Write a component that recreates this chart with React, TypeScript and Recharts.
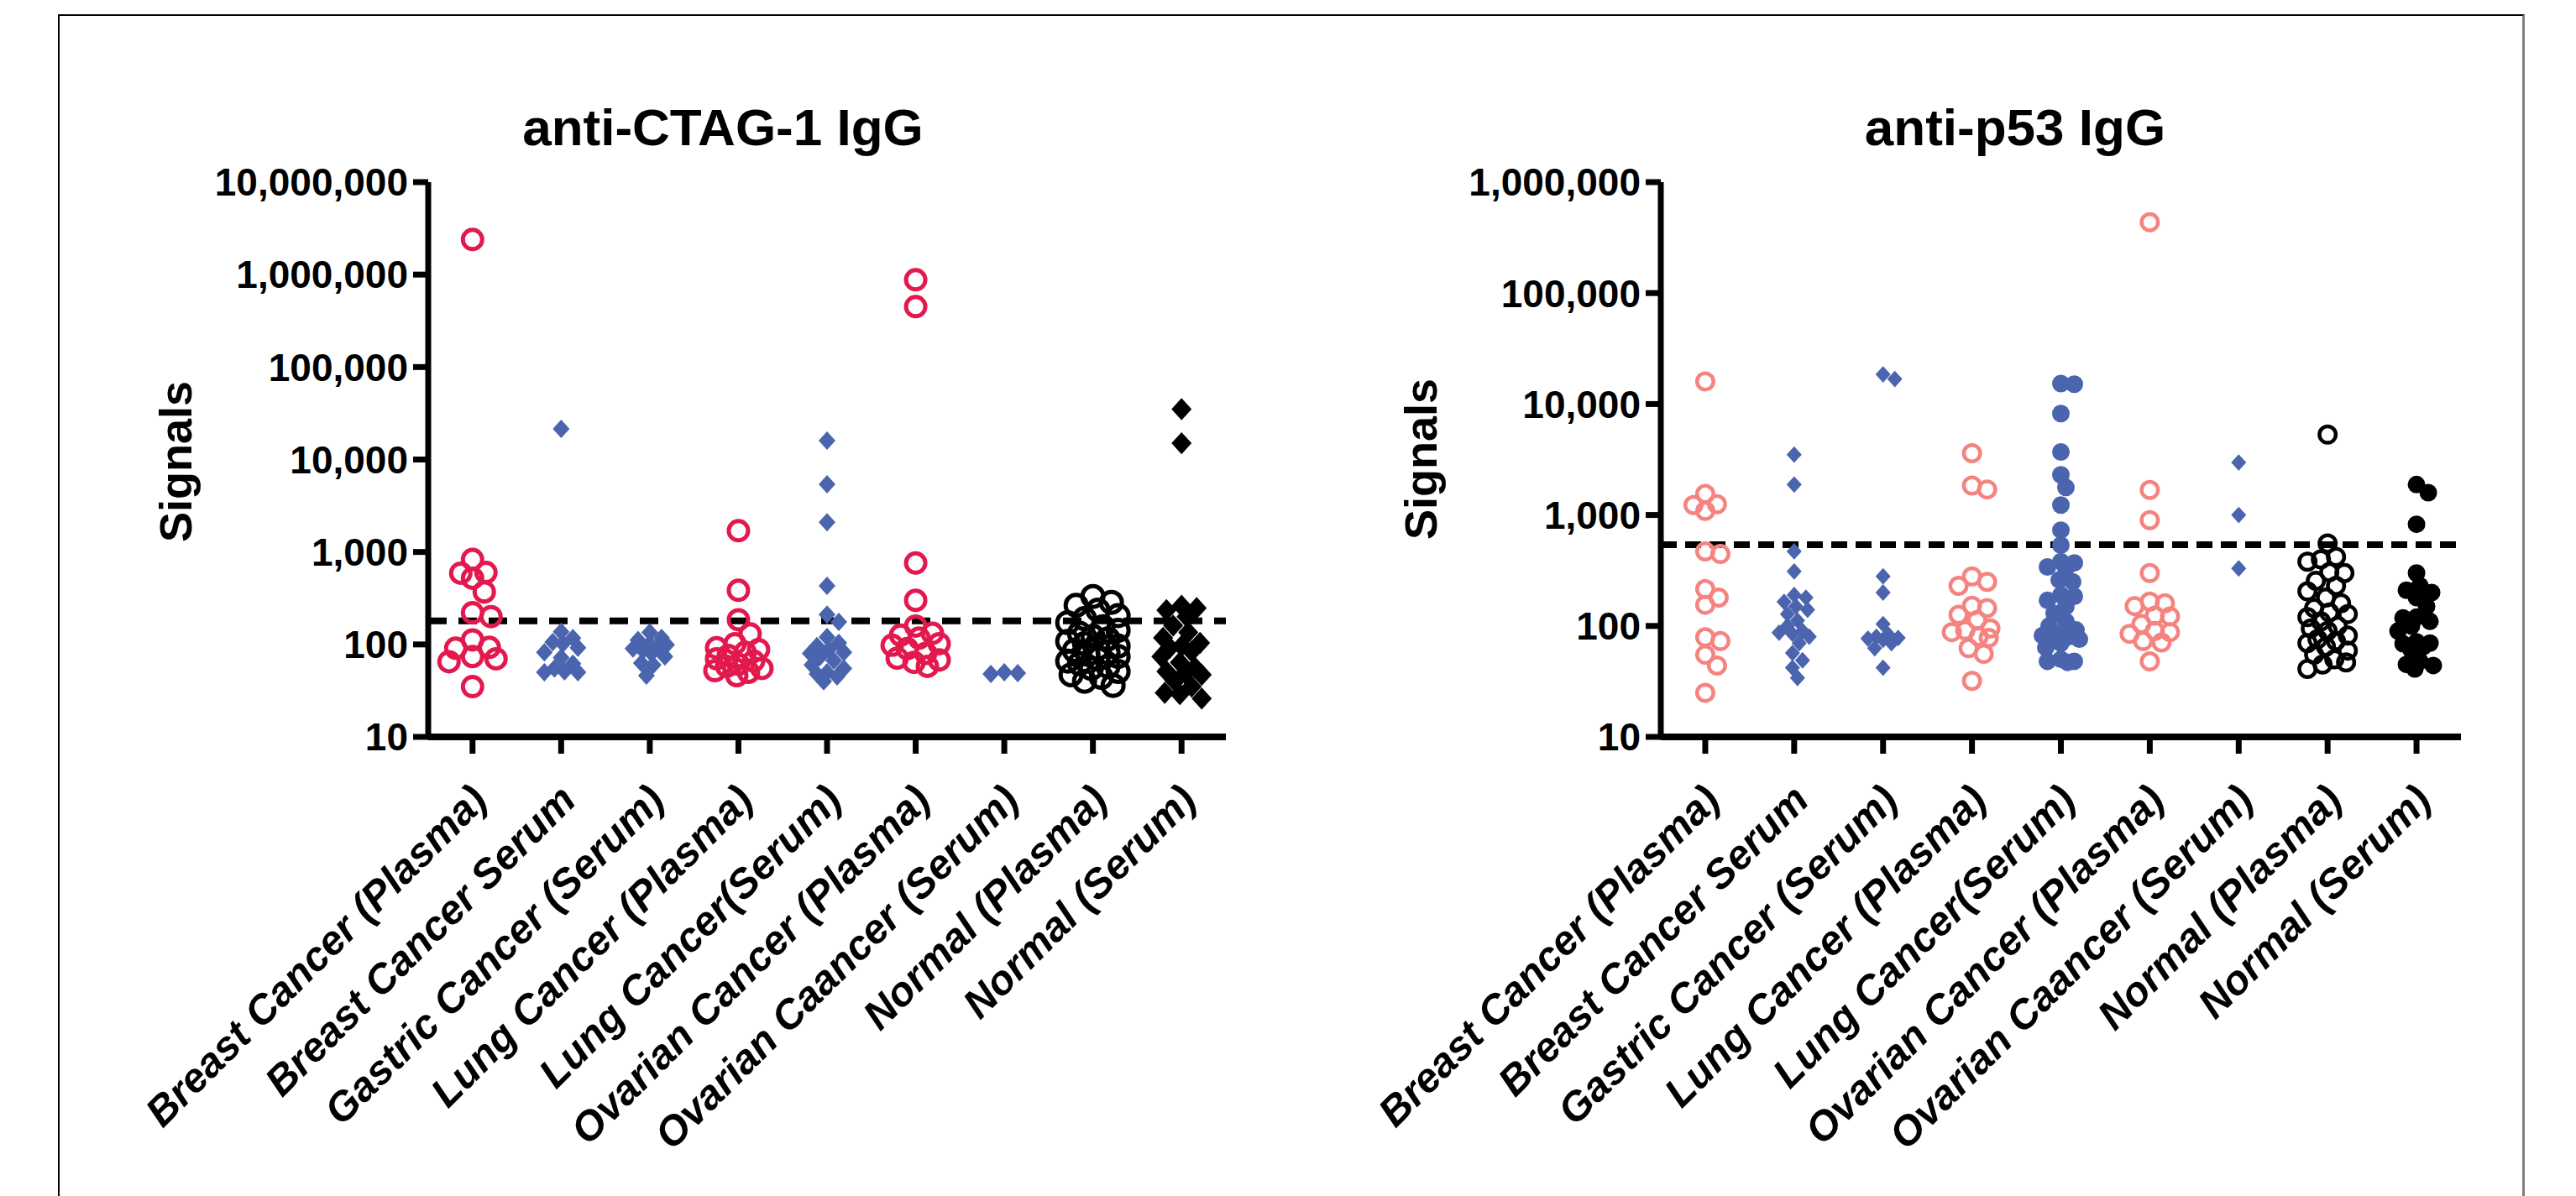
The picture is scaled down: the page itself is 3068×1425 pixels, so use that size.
import React from "react";
import { ScatterChart, Scatter, XAxis, YAxis, ReferenceLine } from "recharts";

const FONT = "'Liberation Sans', Arial, Helvetica, sans-serif";

const groups = [
  "Breast Cancer (Plasma)",
  "Breast Cancer Serum",
  "Gastric Cancer (Serum)",
  "Lung Cancer (Plasma)",
  "Lung Cancer(Serum)",
  "Ovarian Cancer (Plasma)",
  "Ovarian Caancer (Serum)",
  "Normal (Plasma)",
  "Normal (Serum)",
];

// anti-CTAG-1 IgG
const ctagBreastPlasma = [2400000, 830, 600, 590, 520, 370, 220, 200, 112, 93, 91, 74, 70, 65, 35];
const ctagBreastSerum = [21500, 137, 117, 106, 102, 92, 82, 72, 62, 55, 51, 50, 50];
const ctagGastricSerum = [135, 118, 112, 102, 99, 94, 90, 86, 80, 74, 63, 60, 46];
const ctagLungPlasma = [1700, 385, 185, 130, 102, 92, 88, 82, 76, 70, 66, 61, 58, 55, 52, 50, 46];
const ctagLungSerum = [16000, 5400, 2100, 430, 210, 175, 120, 104, 96, 88, 82, 80, 74, 67, 60, 55, 50, 48, 45, 40];
const ctagOvarianPlasma = [880000, 450000, 760, 300, 158, 132, 126, 117, 102, 98, 90, 80, 71, 68, 64, 58];
const ctagOvarianSerum = [50, 48, 49];
const ctagNormalPlasma = [330, 285, 265, 235, 205, 190, 172, 155, 142, 132, 122, 115, 108, 102, 96, 91, 86, 82, 78, 74, 70, 66, 62, 58, 55, 51, 47, 44, 40, 36];
const ctagNormalSerum = [35000, 15000, 262, 248, 235, 200, 160, 135, 118, 104, 96, 92, 84, 74, 64, 56, 51, 49, 47, 40, 35, 30, 29, 26];
const ctagCutoff = 180;
const ctagTicks = [10, 100, 1000, 10000, 100000, 1000000, 10000000];

// anti-p53 IgG
const p53BreastPlasma = [16000, 1550, 1250, 1230, 1090, 470, 445, 215, 180, 155, 79, 73, 55, 44, 25];
const p53BreastSerum = [3500, 1880, 470, 310, 190, 180, 165, 150, 140, 128, 112, 100, 90, 87, 85, 80, 70, 57, 49, 42, 34];
const p53GastricSerum = [18500, 16800, 280, 200, 104, 84, 80, 78, 77, 75, 70, 63, 42];
const p53LungPlasma = [3600, 1840, 1700, 280, 250, 230, 152, 145, 126, 113, 95, 91, 88, 80, 78, 63, 56, 32];
const p53LungSerum = [15300, 15100, 8200, 3700, 2300, 1770, 1230, 730, 535, 380, 370, 340, 330, 260, 250, 190, 185, 170, 150, 130, 110, 100, 92, 86, 82, 80, 80, 76, 70, 64, 50, 48, 48, 47];
const p53OvarianPlasma = [435000, 1680, 900, 300, 166, 160, 151, 124, 122, 104, 90, 88, 85, 73, 71, 48];
const p53OvarianSerum = [2970, 1000, 330];
const p53NormalPlasma = [5300, 555, 420, 398, 380, 305, 300, 255, 230, 205, 180, 160, 145, 132, 128, 120, 110, 100, 95, 90, 82, 76, 73, 70, 65, 60, 55, 50, 47, 45, 41];
const p53NormalSerum = [1880, 1590, 825, 300, 230, 210, 200, 180, 150, 120, 118, 110, 100, 90, 72, 70, 69, 65, 60, 48, 45, 44, 41];
const p53Cutoff = 540;
const p53Ticks = [10, 100, 1000, 10000, 100000, 1000000];

const RED = "#e3194d";
const PINK = "#f5837f";
const BLUE = "#4a65ae";
const BLACK = "#000000";

type Mark = { kind: "ring" | "dot" | "diamond"; color: string; size: number; sw?: number };

const ctagSeries = [ctagBreastPlasma, ctagBreastSerum, ctagGastricSerum, ctagLungPlasma, ctagLungSerum, ctagOvarianPlasma, ctagOvarianSerum, ctagNormalPlasma, ctagNormalSerum];
const ctagMarks: Mark[] = [
  { kind: "ring", color: RED, size: 28, sw: 5 },
  { kind: "diamond", color: BLUE, size: 20 },
  { kind: "diamond", color: BLUE, size: 20 },
  { kind: "ring", color: RED, size: 28, sw: 5 },
  { kind: "diamond", color: BLUE, size: 20 },
  { kind: "ring", color: RED, size: 28, sw: 5 },
  { kind: "diamond", color: BLUE, size: 20 },
  { kind: "ring", color: BLACK, size: 30, sw: 5 },
  { kind: "diamond", color: BLACK, size: 24 },
];

const p53Series = [p53BreastPlasma, p53BreastSerum, p53GastricSerum, p53LungPlasma, p53LungSerum, p53OvarianPlasma, p53OvarianSerum, p53NormalPlasma, p53NormalSerum];
const p53Marks: Mark[] = [
  { kind: "ring", color: PINK, size: 24, sw: 4.5 },
  { kind: "diamond", color: BLUE, size: 18 },
  { kind: "diamond", color: BLUE, size: 18 },
  { kind: "ring", color: PINK, size: 24, sw: 4.5 },
  { kind: "dot", color: BLUE, size: 21 },
  { kind: "ring", color: PINK, size: 24, sw: 4.5 },
  { kind: "diamond", color: BLUE, size: 18 },
  { kind: "ring", color: BLACK, size: 24, sw: 4.5 },
  { kind: "dot", color: BLACK, size: 21 },
];

// column scatter: nudge overlapping points sideways, but keep the column narrow
function swarm(values: number[], idx: number, size: number, pxPerDecade: number, band: number) {
  const pts = values.map((v) => ({ v, py: Math.log10(v) * pxPerDecade })).sort((a, b) => b.py - a.py);
  const placed: { px: number; py: number }[] = [];
  const minD = size * 0.75;
  const maxOff = size * 1.05;
  const cands: number[] = [];
  for (let o = 0; o <= maxOff; o += 2) {
    cands.push(o);
    if (o > 0) cands.push(-o);
  }
  return pts.map((p) => {
    let best = 0;
    let bestD = -1;
    for (const c of cands) {
      const d = placed.reduce((m, q) => Math.min(m, Math.hypot(q.px - c, q.py - p.py)), Infinity);
      if (d >= minD) {
        best = c;
        break;
      }
      if (d > bestD + 0.5) {
        bestD = d;
        best = c;
      }
    }
    placed.push({ px: best, py: p.py });
    return { x: idx + best / band, y: p.v };
  });
}

function shapeFor(m: Mark) {
  return (props: any) => {
    const { cx, cy } = props;
    if (cx == null || cy == null) return <g />;
    if (m.kind === "ring") {
      const sw = m.sw || 5;
      return <circle cx={cx} cy={cy} r={m.size / 2 - sw / 2} fill="none" stroke={m.color} strokeWidth={sw} />;
    }
    if (m.kind === "dot") return <circle cx={cx} cy={cy} r={m.size / 2} fill={m.color} />;
    const w = m.size / 2;
    const h = m.size * 0.55;
    return <path d={`M${cx},${cy - h}L${cx + w},${cy}L${cx},${cy + h}L${cx - w},${cy}Z`} fill={m.color} />;
  };
}

const fmt = (v: number) => String(v).replace(/\B(?=(\d{3})+(?!\d))/g, ",");

const XTick = (props: any) => {
  const { x, y, payload } = props;
  const ax = x + 20;
  const ay = y + 56;
  return (
    <text x={ax} y={ay} transform={`rotate(-45 ${ax} ${ay})`} textAnchor="end" fontSize={49} fontWeight={700} fontStyle="italic" fontFamily={FONT} fill="#000">
      {groups[payload.value]}
    </text>
  );
};

type PanelProps = {
  left: number;
  width: number;
  margin: { top: number; right: number; bottom: number; left: number };
  series: number[][];
  marks: Mark[];
  ticks: number[];
  cutoff: number;
  dash: string;
};

function Panel({ left, width, margin, series, marks, ticks, cutoff, dash }: PanelProps) {
  const height = 1425;
  const plotH = height - margin.top - margin.bottom - 500;
  const plotW = width - margin.left - margin.right - 300;
  const decades = Math.log10(ticks[ticks.length - 1] / ticks[0]);
  const pxPerDecade = plotH / decades;
  const band = plotW / groups.length;
  return (
    <div style={{ position: "absolute", left, top: 0 }}>
      <ScatterChart width={width} height={height} margin={margin}>
        <XAxis
          type="number"
          dataKey="x"
          domain={[-0.5, groups.length - 0.5]}
          ticks={groups.map((_, i) => i)}
          interval={0}
          height={500}
          tickSize={20}
          axisLine={{ stroke: "#000", strokeWidth: 8 }}
          tickLine={{ stroke: "#000", strokeWidth: 7 }}
          tick={<XTick />}
        />
        <YAxis
          type="number"
          dataKey="y"
          scale="log"
          domain={[ticks[0], ticks[ticks.length - 1]]}
          allowDataOverflow
          ticks={ticks}
          interval={0}
          width={300}
          tickSize={18}
          tickMargin={6}
          tickFormatter={fmt}
          axisLine={{ stroke: "#000", strokeWidth: 7 }}
          tickLine={{ stroke: "#000", strokeWidth: 7 }}
          tick={{ fill: "#000", fontSize: 46, fontWeight: 700, fontFamily: FONT }}
        />
        {series.map((vals, i) => (
          <Scatter
            key={i}
            data={swarm(vals, i, marks[i].size, pxPerDecade, band)}
            shape={shapeFor(marks[i])}
            isAnimationActive={false}
          />
        ))}
        <ReferenceLine y={cutoff} stroke="#000" strokeWidth={8} strokeDasharray={dash} />
      </ScatterChart>
    </div>
  );
}

export default function App() {
  return (
    <div style={{ position: "absolute", left: 0, top: 0, width: 3068, height: 1425, background: "#fff", overflow: "hidden" }}>
      <div
        style={{
          position: "absolute",
          left: 69,
          top: 17,
          width: 2938,
          height: 1500,
          boxSizing: "border-box",
          borderTop: "2px solid #000",
          borderLeft: "2px solid #000",
          borderRight: "3px solid #7f7f7f",
        }}
      />
      <Panel
        left={0}
        width={1560}
        margin={{ top: 217, right: 100, bottom: 47, left: 210 }}
        series={ctagSeries}
        marks={ctagMarks}
        ticks={ctagTicks}
        cutoff={ctagCutoff}
        dash="22 14"
      />
      <Panel
        left={1560}
        width={1508}
        margin={{ top: 217, right: 137, bottom: 47, left: 118 }}
        series={p53Series}
        marks={p53Marks}
        ticks={p53Ticks}
        cutoff={p53Cutoff}
        dash="19 10"
      />
      <svg width={3068} height={1425} style={{ position: "absolute", left: 0, top: 0, pointerEvents: "none" }}>
        <g fontFamily={FONT} fontWeight={700} fill="#000">
          <text x={861} y={173} textAnchor="middle" fontSize={62}>anti-CTAG-1 IgG</text>
          <text x={2400} y={173} textAnchor="middle" fontSize={62}>anti-p53 IgG</text>
          <text transform="translate(228 550) rotate(-90)" textAnchor="middle" fontSize={54}>Signals</text>
          <text transform="translate(1711 547) rotate(-90)" textAnchor="middle" fontSize={54}>Signals</text>
        </g>
      </svg>
    </div>
  );
}
